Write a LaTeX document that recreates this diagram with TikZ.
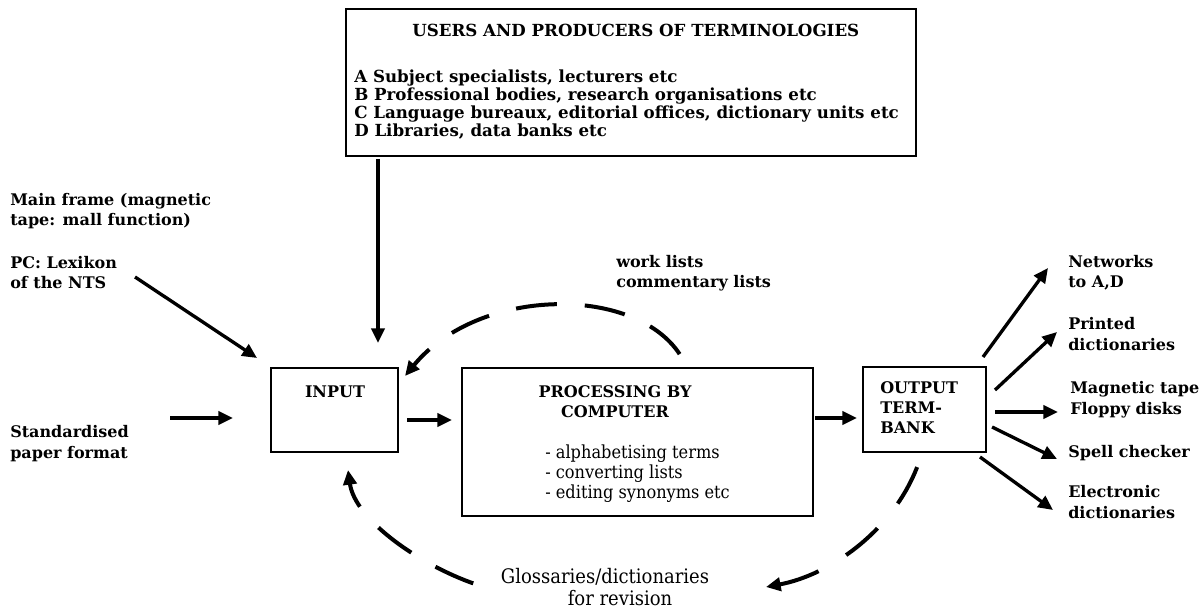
\documentclass[tikz,border=0pt]{standalone}
\usepackage{fontspec}
\setmainfont{DejaVu Serif}
\newfontfamily\condfont{DejaVu Serif Condensed}
\usetikzlibrary{arrows.meta}
\begin{document}
\begin{tikzpicture}[x=0.75pt,y=-0.75pt,
  box/.style={draw, line width=1.4pt, inner sep=0pt, anchor=north west},
  arr/.style={line width=2.5pt, -{Triangle[length=11pt,width=10pt]}},
  darr/.style={line width=3pt, {Triangle[length=11pt,width=10pt]}-},
  lbl/.style={font=\bfseries\fontsize{12}{15.5}\selectfont, align=left, anchor=base west, inner sep=0pt},
  toplbl/.style={font=\bfseries\fontsize{12.5}{13.5}\selectfont, align=left, anchor=base west, inner sep=0pt},
  listlbl/.style={font=\condfont\fontsize{13.5}{15}\selectfont, align=left, anchor=base west, inner sep=0pt},
  glosslbl/.style={font=\condfont\fontsize{15}{15}\selectfont, anchor=base, inner sep=0pt}]
\useasboundingbox (0,0) rectangle (1202,609);
\fill[white] (0,0) rectangle (1202,609);

% boxes
\node[box, minimum width=570*0.75pt, minimum height=147*0.75pt] (users) at (345,8) {};
\node[box, minimum width=127*0.75pt, minimum height=84*0.75pt] (input) at (270,367) {};
\node[box, minimum width=351*0.75pt, minimum height=148*0.75pt] (proc) at (461,367) {};
\node[box, minimum width=123*0.75pt, minimum height=85*0.75pt] (out) at (862,366) {};

% box texts (anchor = baseline of the last line)
\node[toplbl] (usersT) at (412,37) {USERS AND PRODUCERS OF TERMINOLOGIES};
\node[toplbl] (usersL) at (354,137) {A Subject specialists, lecturers etc\\B Professional bodies, research organisations etc\\C Language bureaux, editorial offices, dictionary units etc\\D Libraries, data banks etc};
\node[lbl, anchor=base] (inputT) at (335,397) {INPUT};
\node[lbl, font=\bfseries\fontsize{12}{15}\selectfont, anchor=base, align=center] (procT) at (615,417) {PROCESSING BY\\COMPUTER};
\node[listlbl] (procL) at (545,498) {- alphabetising terms\\- converting lists\\- editing synonyms etc};
\node[lbl, font=\bfseries\fontsize{12}{15}\selectfont] (outT) at (880,433) {OUTPUT\\TERM-\\BANK};

% outside labels
\node[lbl] (mainframe) at (10,226) {Main frame (magnetic\\tape: mall function)};
\node[lbl] (pc) at (10,289) {PC: Lexikon\\of the NTS};
\node[lbl] (std) at (10,458) {Standardised\\paper format};
\node[lbl, font=\bfseries\fontsize{12}{15}\selectfont] (work) at (616,288) {work lists\\commentary lists};
\node[glosslbl] (gloss1) at (605,583) {Glossaries/dictionaries};
\node[glosslbl] (gloss2) at (620,605) {for revision};
\node[lbl] (net) at (1068,288) {Networks\\to A,D};
\node[lbl] (printed) at (1068,350) {Printed\\dictionaries};
\node[lbl] (mag) at (1070,414) {Magnetic tape\\Floppy disks};
\node[lbl] (spell) at (1068,457) {Spell checker};
\node[lbl] (elec) at (1068,518) {Electronic\\dictionaries};

% connector end points
\coordinate (vA) at (378,159);   \coordinate (vB) at (378,343);
\coordinate (pcA) at (135,277);  \coordinate (pcB) at (257,358);
\coordinate (stA) at (170,418);  \coordinate (stB) at (233,418);
\coordinate (ipA) at (407,420);  \coordinate (ipB) at (452,420);
\coordinate (poA) at (815,418);  \coordinate (poB) at (857,418);
\coordinate (nA) at (983,357);   \coordinate (nB) at (1048,268);
\coordinate (prA) at (995,390);  \coordinate (prB) at (1057,332);
\coordinate (mA) at (995,412);   \coordinate (mB) at (1058,412);
\coordinate (sA) at (992,427);   \coordinate (sB) at (1057,459);
\coordinate (eA) at (980,457);   \coordinate (eB) at (1053,510);
\coordinate (tS) at (682,358);   \coordinate (tE) at (405,376);
\coordinate (rS) at (919,462);   \coordinate (rE) at (766,587);
\coordinate (lS) at (475,584);   \coordinate (lE) at (348,470);

% solid arrows
\draw[arr] (vA) -- (vB);
\draw[arr] (pcA) -- (pcB);
\draw[arr] (stA) -- (stB);
\draw[arr] (ipA) -- (ipB);
\draw[arr] (poA) -- (poB);
\draw[arr] (nA) -- (nB);
\draw[arr] (prA) -- (prB);
\draw[arr] (mA) -- (mB);
\draw[arr] (sA) -- (sB);
\draw[arr] (eA) -- (eB);

% dashed feedback arcs (drawn from the arrow end so the dash at the tip is solid)
\draw[darr, dash pattern=on 30.75pt off 21pt, dash phase=14pt] (tE) .. controls (480,285) and (640,285) .. (tS);
\draw[darr, dash pattern=on 31pt off 24pt, dash phase=0pt] (rE) .. controls (830,575) and (895,530) .. (rS);
\draw[darr, dash pattern=on 31pt off 21pt, dash phase=12pt] (lE) .. controls (355,520) and (420,565) .. (lS);
\end{tikzpicture}
\end{document}
